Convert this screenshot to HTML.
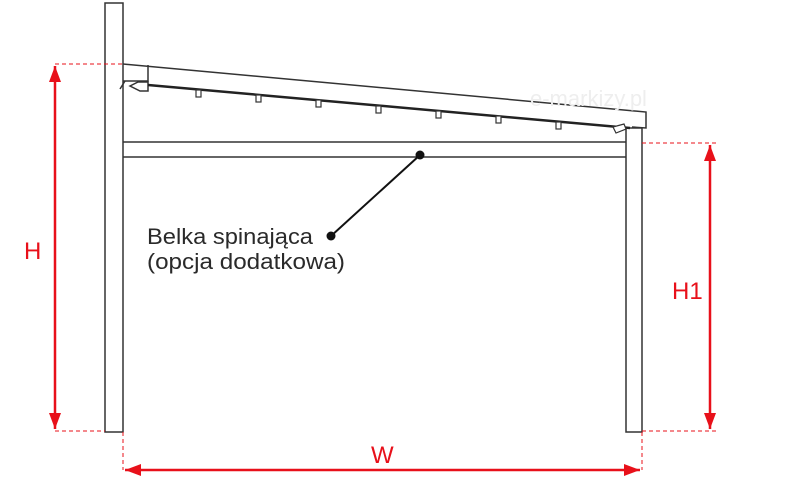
<!DOCTYPE html>
<html><head><style>html,body{margin:0;padding:0;background:#fff}svg{display:block}</style></head>
<body>
<svg width="810" height="500" viewBox="0 0 810 500" xmlns="http://www.w3.org/2000/svg">
<defs>
<marker id="a" viewBox="0 0 16 12" refX="16" refY="6" markerWidth="16" markerHeight="12" markerUnits="userSpaceOnUse" orient="auto-start-reverse"><path d="M0,0 L16,6 L0,12 Z" fill="#e8101a"/></marker>
</defs>
<g stroke="#333" fill="none" stroke-width="1.5">
<rect x="105" y="3" width="18" height="429" fill="#fff"/>
<rect x="626" y="128" width="16" height="304" fill="#fff"/>
<line x1="123" y1="142" x2="626" y2="142"/>
<line x1="123" y1="157" x2="626" y2="157"/>
<path d="M123,64 L646,112 L646,128 L632,127"/>
<path d="M123,81 L148,81 L148,65"/>
<path d="M125,81 L120,89 M130,86 L138,82 L148,82 L148,91 L140,91 Z"/>
</g>
<line x1="148" y1="85" x2="630" y2="128" stroke="#222" stroke-width="2.5"/>
<g stroke="#333" fill="#fff" stroke-width="1.2">
<rect x="196" y="90" width="5" height="7"/><rect x="256" y="95" width="5" height="7"/><rect x="316" y="100" width="5" height="7"/><rect x="376" y="106" width="5" height="7"/><rect x="436" y="111" width="5" height="7"/><rect x="496" y="116" width="5" height="7"/><rect x="556" y="122" width="5" height="7"/>
<path d="M613,127 L624,124 L626,129 L616,133 Z"/>
</g>
<text x="530" y="106" font-family="Liberation Sans, sans-serif" font-size="22" fill="#eeeeee">e-markizy.pl</text>
<g stroke="#e8101a" stroke-width="1" stroke-dasharray="4,3" fill="none">
<line x1="55" y1="64" x2="123" y2="64"/><line x1="55" y1="431" x2="105" y2="431"/>
<line x1="642" y1="143" x2="716" y2="143"/><line x1="642" y1="431" x2="716" y2="431"/>
<line x1="123" y1="432" x2="123" y2="470"/><line x1="642" y1="432" x2="642" y2="470"/>
</g>
<g stroke="#e8101a" stroke-width="2.5" fill="none">
<line x1="55" y1="66" x2="55" y2="429" marker-start="url(#a)" marker-end="url(#a)"/>
<line x1="710" y1="145" x2="710" y2="429" marker-start="url(#a)" marker-end="url(#a)"/>
<line x1="125" y1="470" x2="640" y2="470" marker-start="url(#a)" marker-end="url(#a)"/>
</g>
<g font-family="Liberation Sans, sans-serif" font-size="24" fill="#e8101a">
<text x="24" y="259">H</text><text x="672" y="299">H1</text><text x="371" y="463">W</text>
</g>
<line x1="420" y1="155" x2="331" y2="236" stroke="#111" stroke-width="2"/>
<circle cx="420" cy="155" r="4.5" fill="#111"/><circle cx="331" cy="236" r="4.5" fill="#111"/>
<g font-family="Liberation Sans, sans-serif" font-size="22" fill="#2a2a2a">
<text x="147" y="244" textLength="166" lengthAdjust="spacingAndGlyphs">Belka spinająca</text>
<text x="147" y="269" textLength="198" lengthAdjust="spacingAndGlyphs">(opcja dodatkowa)</text>
</g>
</svg>
</body></html>
